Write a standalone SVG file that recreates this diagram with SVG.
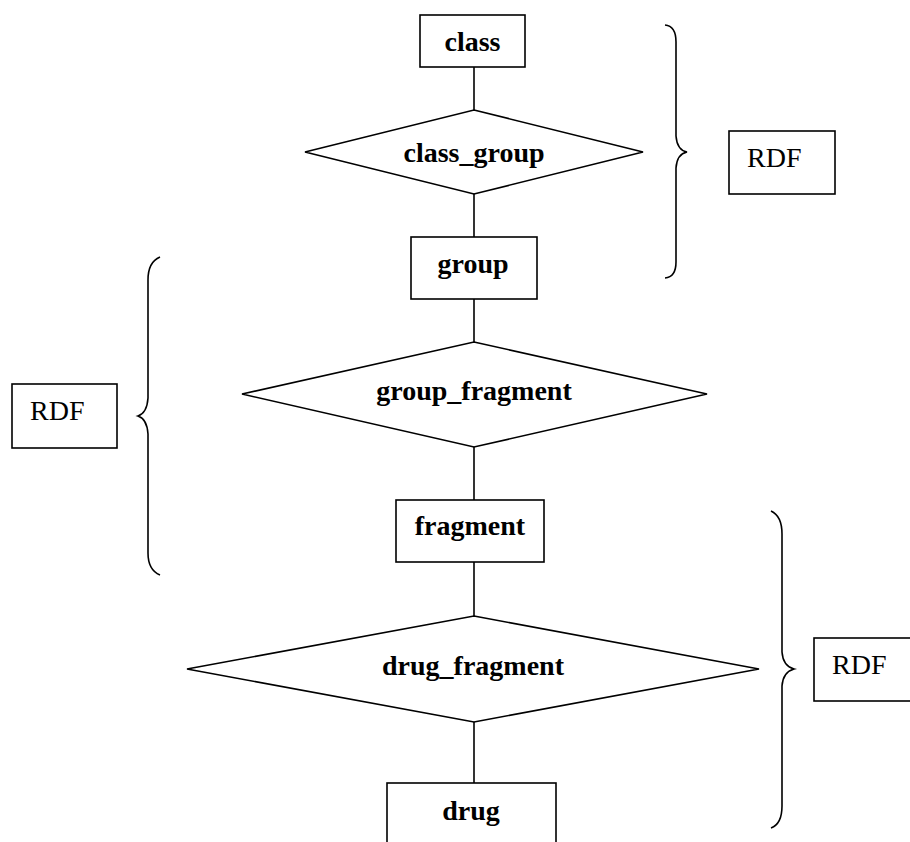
<svg xmlns="http://www.w3.org/2000/svg" width="910" height="842" viewBox="0 0 910 842">
<style>
  .shape { fill: #ffffff; stroke: #000000; stroke-width: 1.6; }
  .edge { fill: none; stroke: #000000; stroke-width: 1.6; }
  .brace { fill: none; stroke: #000000; stroke-width: 1.6; }
  .lbl { font-family: "Liberation Serif", "Times New Roman", serif; font-size: 28px; font-weight: bold; text-anchor: middle; fill: #000; }
  .rdf { font-family: "Liberation Serif", "Times New Roman", serif; font-size: 28px; fill: #000; }
</style>
<rect width="910" height="842" fill="#ffffff"/>
<g id="connectors">
  <line class="edge" x1="474" y1="67" x2="474" y2="110"/>
  <line class="edge" x1="474" y1="194" x2="474" y2="237"/>
  <line class="edge" x1="474" y1="299" x2="474" y2="342"/>
  <line class="edge" x1="474" y1="447" x2="474" y2="500"/>
  <line class="edge" x1="474" y1="562" x2="474" y2="616"/>
  <line class="edge" x1="474" y1="722" x2="474" y2="783"/>
</g>
<g id="class">
  <rect class="shape" x="420" y="15" width="105" height="52"/>
  <text class="lbl" x="472.5" y="51">class</text>
</g>
<g id="class_group">
  <polygon class="shape" points="474,110 643,152 474,194 305,152"/>
  <text class="lbl" x="474" y="162">class_group</text>
</g>
<g id="group">
  <rect class="shape" x="411" y="237" width="126" height="62"/>
  <text class="lbl" x="473" y="273">group</text>
</g>
<g id="group_fragment">
  <polygon class="shape" points="474,342 707,394 474,447 242,394"/>
  <text class="lbl" x="474" y="400">group_fragment</text>
</g>
<g id="fragment">
  <rect class="shape" x="396" y="500" width="148" height="62"/>
  <text class="lbl" x="470" y="535">fragment</text>
</g>
<g id="drug_fragment">
  <polygon class="shape" points="474,616 759,669 474,722 187,669"/>
  <text class="lbl" x="473" y="675">drug_fragment</text>
</g>
<g id="drug">
  <rect class="shape" x="387" y="783" width="169" height="70"/>
  <text class="lbl" x="471" y="820">drug</text>
</g>
<g id="brace_top_right">
  <path class="brace" d="M665,25 Q676,26 676,42 L676,136 Q677,150 687,152 Q677,154 676,168 L676,262 Q676,277 665,278"/>
</g>
<g id="rdf_top">
  <rect class="shape" x="729" y="131" width="106" height="63"/>
  <text class="rdf" x="747" y="167">RDF</text>
</g>
<g id="brace_left">
  <path class="brace" d="M160,257 Q148,262 148,280 L148,398 Q147,413 138,416 Q147,419 148,434 L148,553 Q148,570 160,575"/>
</g>
<g id="rdf_left">
  <rect class="shape" x="12" y="384" width="105" height="64"/>
  <text class="rdf" x="30" y="420">RDF</text>
</g>
<g id="brace_bottom_right">
  <path class="brace" d="M771,511 Q782,516 782,534 L782,652 Q783,666 794,669 Q783,672 782,686 L782,806 Q782,824 771,828"/>
</g>
<g id="rdf_bottom">
  <rect class="shape" x="814" y="638" width="100" height="63"/>
  <text class="rdf" x="832" y="674">RDF</text>
</g>
</svg>
